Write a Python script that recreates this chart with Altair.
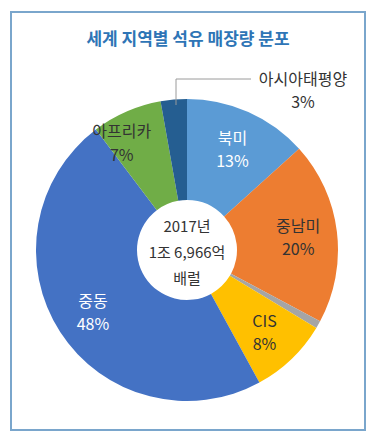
import altair as alt
import pandas as pd

regions = ["북미", "중남미", "유럽", "CIS", "중동", "아프리카", "아시아태평양"]
shares = [13.3, 19.5, 0.8, 8.4, 47.6, 7.5, 2.8]
pct_labels = ["13%", "20%", "", "8%", "48%", "7%", "3%"]
colors = ["#5b9bd5", "#ed7d31", "#a5a5a5", "#ffc000", "#4472c4", "#70ad47", "#255e91"]
title_text = "세계 지역별 석유 매장량 분포"
center_lines = ["2017년", "1조 6,966억", "배럴"]

df = pd.DataFrame({
    "region": regions,
    "share": shares,
    "idx": list(range(len(regions))),
    "label": [f"{r}\n{p}" if p else "" for r, p in zip(regions, pct_labels)],
})

FONT = "Noto Sans CJK KR"
CX, CY = 179, 242
FS = 16

base = alt.Chart(df).encode(
    theta=alt.Theta("share:Q", stack=True),
    order=alt.Order("idx:Q"),
    x=alt.value(CX),
    y=alt.value(CY),
)

arcs = base.mark_arc(outerRadius=151, innerRadius=50).encode(
    color=alt.Color("region:N", scale=alt.Scale(domain=regions, range=colors), legend=None)
)

label_color = alt.condition(
    alt.FieldOneOfPredicate(field="region", oneOf=["북미", "중동"]),
    alt.value("#ffffff"),
    alt.value("#333333"),
)

inner_labels = base.transform_calculate(
    lab="indexof(['북미','중남미','CIS','중동'], datum.region) >= 0 ? datum.label : ''"
).mark_text(
    radius=112, dy=-9, font=FONT, fontSize=FS, lineBreak="\n", lineHeight=23
).encode(text=alt.Text("lab:N"), color=label_color)

africa_label = base.transform_calculate(
    lab="datum.region == '아프리카' ? datum.label : ''"
).mark_text(
    radius=118, dx=-18, dy=-10, font=FONT, fontSize=FS, lineBreak="\n", lineHeight=24
).encode(text=alt.Text("lab:N"), color=label_color)

ann = pd.DataFrame({"t": [regions[-1] + "\n" + pct_labels[-1]]})
outer_label = alt.Chart(ann).mark_text(
    font=FONT, fontSize=FS, lineBreak="\n", lineHeight=23, color="#333333"
).encode(text="t:N", x=alt.value(295), y=alt.value(72))

leader_v = alt.Chart(ann).mark_rule(color="#9a9a9a", strokeWidth=1).encode(
    x=alt.value(168), y=alt.value(71), y2=alt.value(97)
)
leader_h = alt.Chart(ann).mark_rule(color="#9a9a9a", strokeWidth=1).encode(
    x=alt.value(168), x2=alt.value(243), y=alt.value(71)
)

ctr = pd.DataFrame({"t": ["\n".join(center_lines)]})
center_text = alt.Chart(ctr).mark_text(
    font=FONT, fontSize=15, lineBreak="\n", lineHeight=26, color="#333333"
).encode(text="t:N", x=alt.value(CX), y=alt.value(CY - 23))

tdf = pd.DataFrame({"t": [title_text]})
title = alt.Chart(tdf).mark_text(
    font=FONT, fontSize=17, fontWeight="bold", color="#2e75b6"
).encode(text="t:N", x=alt.value(180), y=alt.value(32))

border = alt.Chart(tdf).mark_rect(fill="white", stroke="#7aa6cc", strokeWidth=2).encode(
    x=alt.value(3), x2=alt.value(357), y=alt.value(4), y2=alt.value(422)
)

chart = alt.layer(
    border, title, arcs, inner_labels, africa_label, outer_label, leader_v, leader_h, center_text
).properties(
    width=360, height=427, autosize=alt.AutoSizeParams(type="none"), padding=0
).configure_view(stroke=None)

chart.save("out.html", embed_options={"renderer": "svg", "actions": False})
